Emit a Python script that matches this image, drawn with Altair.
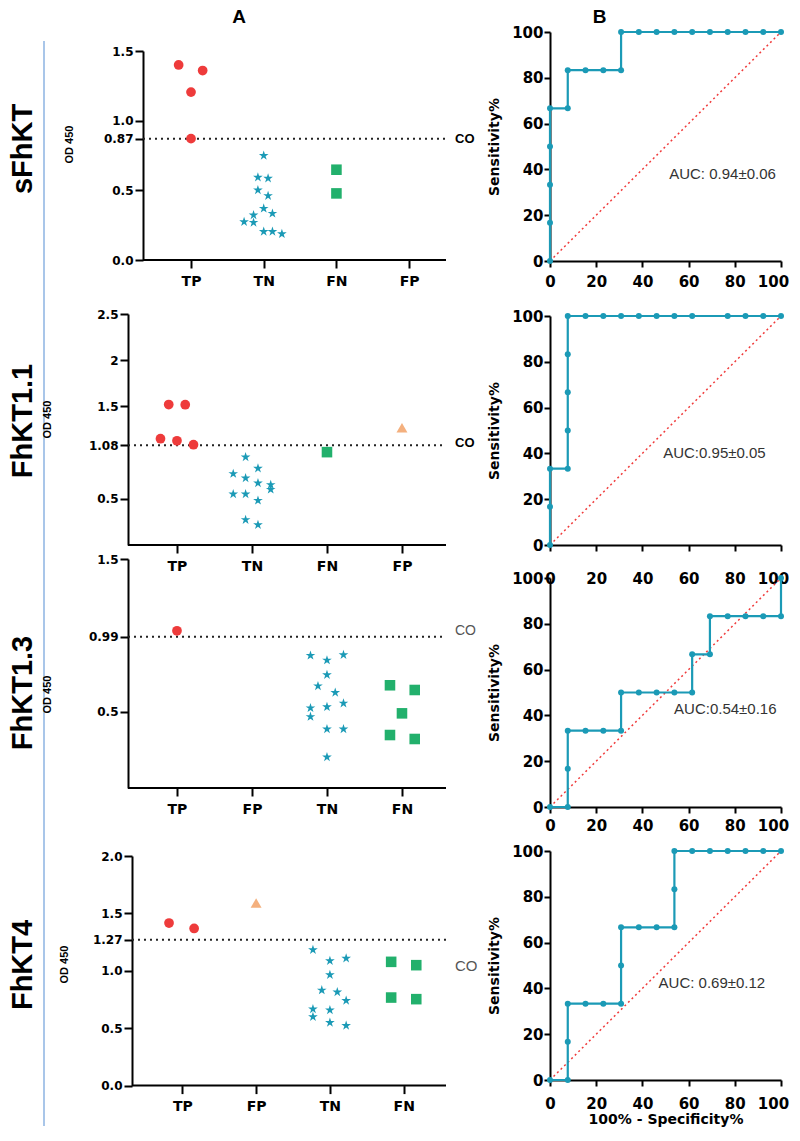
import json
import altair as alt
import pandas as pd

# ---------------- data ----------------
PANELS = ["sFhKT", "FhKT1.1", "FhKT1.3", "FhKT4"]
PANEL_ROW = [0, 1, 2, 3]
CATS = [["TP", "TN", "FN", "FP"], ["TP", "TN", "FN", "FP"],
        ["TP", "FP", "TN", "FN"], ["TP", "FP", "TN", "FN"]]
CUTOFF = [0.87, 1.08, 0.99, 1.27]
YMAX = [1.5, 2.5, 1.5, 2.0]
YTICK_VALUES = [[0.0, 0.5, 0.87, 1.0, 1.5], [0.5, 1.08, 1.5, 2.0, 2.5],
                [0.5, 0.99, 1.5], [0.0, 0.5, 1.0, 1.27, 1.5, 2.0]]
YTICK_LABELS = [["0.0", "0.5", "0.87", "1.0", "1.5"], ["0.5", "1.08", "1.5", "2", "2.5"],
                ["0.5", "0.99", "1.5"], ["0.0", "0.5", "1.0", "1.27", "1.5", "2.0"]]

# OD 450 values per group, with beeswarm jitter (fraction of a category step)
SF_TP = [1.40, 1.36, 1.205, 0.871]
SF_TP_J = [-0.17, 0.16, 0.0, 0.0]
SF_TN = [0.749, 0.593, 0.586, 0.502, 0.461, 0.370, 0.322, 0.334, 0.274, 0.269, 0.204, 0.204, 0.187]
SF_TN_J = [0, -0.08, 0.06, -0.08, 0.06, 0, -0.14, 0.12, -0.27, -0.14, 0, 0.12, 0.25]
SF_FN = [0.648, 0.478]
SF_FN_J = [0, 0]

K11_TP = [1.52, 1.518, 1.15, 1.128, 1.085]
K11_TP_J = [-0.11, 0.11, -0.22, 0, 0.22]
K11_TN = [0.951, 0.829, 0.771, 0.724, 0.670, 0.652, 0.601, 0.551, 0.551, 0.482, 0.273, 0.218]
K11_TN_J = [-0.085, 0.08, -0.25, -0.085, 0.08, 0.25, 0.25, -0.25, -0.085, 0.08, -0.085, 0.08]
K11_FN = [1.005]
K11_FN_J = [0]
K11_FP = [1.27]
K11_FP_J = [0]

K13_TP = [1.03]
K13_TP_J = [0]
K13_TN = [0.868, 0.837, 0.872, 0.741, 0.668, 0.625, 0.524, 0.531, 0.555, 0.467, 0.386, 0.386, 0.202]
K13_TN_J = [-0.22, 0, 0.22, 0, -0.12, 0.11, -0.22, 0, 0.22, -0.22, 0, 0.22, 0]
K13_FN = [0.673, 0.642, 0.489, 0.347, 0.321]
K13_FN_J = [-0.16, 0.17, 0, -0.16, 0.17]

K4_TP = [1.416, 1.369]
K4_TP_J = [-0.18, 0.16]
K4_FP = [1.59]
K4_FP_J = [0]
K4_TN = [1.183, 1.087, 1.108, 0.965, 0.831, 0.814, 0.741, 0.666, 0.657, 0.599, 0.549, 0.523]
K4_TN_J = [-0.23, 0, 0.22, 0, -0.11, 0.1, 0.22, -0.23, 0, -0.23, 0, 0.22]
K4_FN = [1.078, 1.049, 0.767, 0.753]
K4_FN_J = [-0.17, 0.17, -0.17, 0.17]

GROUPS = [
    {"TP": (SF_TP, SF_TP_J), "TN": (SF_TN, SF_TN_J), "FN": (SF_FN, SF_FN_J)},
    {"TP": (K11_TP, K11_TP_J), "TN": (K11_TN, K11_TN_J), "FN": (K11_FN, K11_FN_J), "FP": (K11_FP, K11_FP_J)},
    {"TP": (K13_TP, K13_TP_J), "TN": (K13_TN, K13_TN_J), "FN": (K13_FN, K13_FN_J)},
    {"TP": (K4_TP, K4_TP_J), "FP": (K4_FP, K4_FP_J), "TN": (K4_TN, K4_TN_J), "FN": (K4_FN, K4_FN_J)},
]

# ROC curves (100% - specificity, sensitivity)
ROC1_X = [0, 0, 0, 0, 0, 7.69, 7.69, 15.38, 23.08, 30.77, 30.77, 38.46, 46.15, 53.85, 61.54, 69.23, 76.92, 84.62, 92.31, 100]
ROC1_Y = [0, 16.67, 33.33, 50, 66.67, 66.67, 83.33, 83.33, 83.33, 83.33, 100, 100, 100, 100, 100, 100, 100, 100, 100, 100]
ROC2_X = [0, 0, 0, 7.69, 7.69, 7.69, 7.69, 7.69, 15.38, 23.08, 30.77, 38.46, 46.15, 53.85, 61.54, 76.92, 84.62, 92.31, 100]
ROC2_Y = [0, 16.67, 33.33, 33.33, 50, 66.67, 83.33, 100, 100, 100, 100, 100, 100, 100, 100, 100, 100, 100, 100]
ROC3_X = [0, 7.69, 7.69, 7.69, 15.38, 23.08, 30.77, 30.77, 38.46, 46.15, 53.85, 61.54, 61.54, 69.23, 69.23, 76.92, 84.62, 92.31, 100, 100]
ROC3_Y = [0, 0, 16.67, 33.33, 33.33, 33.33, 33.33, 50, 50, 50, 50, 50, 66.67, 66.67, 83.33, 83.33, 83.33, 83.33, 83.33, 100]
ROC4_X = [0, 7.69, 7.69, 7.69, 15.38, 23.08, 30.77, 30.77, 30.77, 38.46, 46.15, 53.85, 53.85, 53.85, 61.54, 69.23, 76.92, 84.62, 92.31, 100]
ROC4_Y = [0, 0, 16.67, 33.33, 33.33, 33.33, 33.33, 50, 66.67, 66.67, 66.67, 66.67, 83.33, 100, 100, 100, 100, 100, 100, 100]
ROCS = [(ROC1_X, ROC1_Y), (ROC2_X, ROC2_Y), (ROC3_X, ROC3_Y), (ROC4_X, ROC4_Y)]
DIAG = [0, 100]
AUC_TEXT = ["AUC: 0.94±0.06", "AUC:0.95±0.05", "AUC:0.54±0.16", "AUC: 0.69±0.12"]
AUC_X = [51.6, 49.0, 53.7, 47.0]
AUC_Y = [38.0, 40.0, 42.7, 42.4]
AXIS_TICKS_ROC = [0, 20, 40, 60, 80, 100]

# ---------------- styles ----------------
STAR = ("M0,-1L0.2245,-0.309L0.951,-0.309L0.363,0.118L0.588,0.809L0,0.382"
        "L-0.588,0.809L-0.363,0.118L-0.951,-0.309L-0.2245,-0.309Z")
CAT_DOMAIN = ["TP", "TN", "FN", "FP"]
CAT_SHAPES = ["circle", STAR, "square", "triangle-up"]
CAT_COLORS = ["#EE3B3B", "#1B9AB6", "#22B06C", "#F4B07E"]
CAT_SIZES = [95, 120, 100, 95]
TEAL = "#1B9AB6"
BOLD_FONT = "DejaVu Sans"
ARIAL = "Liberation Sans"


def label_expr(values, labels):
    expr = "''"
    for v, l in zip(values, labels):
        expr = f"(abs(datum.value - {v}) < 1e-6 ? '{l}' : {expr})"
    return expr


def spacer(h):
    return alt.Chart(pd.DataFrame({"s": [0]})).mark_point(opacity=0).properties(width=1, height=h)


def a_panel(i, height, dmin, dmax, ax_start, off, title_x, title_y, co_y, co_color, co_weight, co_size):
    rows = []
    for cat, (vals, jit) in GROUPS[i].items():
        idx = CATS[i].index(cat) + 1
        for v, j in zip(vals, jit):
            rows.append({"cat": cat, "xpos": idx + j, "od": v})
    df = pd.DataFrame(rows)
    x_enc = alt.X("xpos:Q", scale=alt.Scale(domain=[dmin, dmax], nice=False, zero=False),
                  axis=alt.Axis(values=[1, 2, 3, 4], labelExpr=f"{json.dumps(CATS[i])}[datum.value - 1]",
                                title=None, domain=False, tickSize=8, labelPadding=6, labelFont=BOLD_FONT,
                                labelFontWeight="bold", labelFontSize=14, labelColor="black",
                                labelFlush=False))
    y_enc = alt.Y("od:Q", scale=alt.Scale(domain=[0, YMAX[i]], nice=False),
                  axis=alt.Axis(values=YTICK_VALUES[i], labelExpr=label_expr(YTICK_VALUES[i], YTICK_LABELS[i]),
                                offset=-off, labelFlush=False,
                                title="OD 450", titleFont=ARIAL, titleFontSize=11, titleFontWeight="bold",
                                titleColor="black", titleAngle=270, titleAlign="center", titleBaseline="middle",
                                titleX=title_x, titleY=title_y, tickSize=8, labelPadding=2,
                                labelFont=BOLD_FONT, labelFontWeight="bold", labelFontSize=12,
                                labelColor="black"))
    pts = alt.Chart(df).mark_point(filled=True, opacity=1, strokeWidth=0).encode(
        x=x_enc, y=y_enc,
        shape=alt.Shape("cat:N", scale=alt.Scale(domain=CAT_DOMAIN, range=CAT_SHAPES), legend=None),
        color=alt.Color("cat:N", scale=alt.Scale(domain=CAT_DOMAIN, range=CAT_COLORS), legend=None),
        size=alt.Size("cat:N", scale=alt.Scale(domain=CAT_DOMAIN, range=CAT_SIZES), legend=None),
    )
    base_line = alt.Chart(pd.DataFrame({"xpos": [ax_start], "xend": [dmax], "od": [0.0]})).mark_rule(
        color="black", strokeWidth=2).encode(x=x_enc, x2="xend:Q", y=y_enc)
    cut = alt.Chart(pd.DataFrame({"xpos": [ax_start], "xend": [dmax], "od": [CUTOFF[i]]})).mark_rule(
        color="#222", strokeWidth=2, strokeDash=[2, 4]).encode(x=x_enc, x2="xend:Q", y=y_enc)
    co = alt.Chart(pd.DataFrame({"xpos": [dmax], "od": [co_y], "t": ["CO"]})).mark_text(
        align="left", baseline="middle", dx=9, font=ARIAL, fontSize=co_size,
        fontWeight=co_weight, color=co_color).encode(x=x_enc, y=y_enc, text="t:N")
    return alt.layer(cut, base_line, pts, co).properties(width=318, height=height)


def b_panel(i, label_pad, show_title):
    fx, fy = ROCS[i]
    df = pd.DataFrame({"fpr": fx, "sens": fy, "ord": list(range(len(fx)))})
    x_enc = alt.X("fpr:Q", scale=alt.Scale(domain=[0, 100], nice=False),
                  axis=alt.Axis(values=AXIS_TICKS_ROC, title="100% - Specificity%" if show_title else None,
                                titleFont=BOLD_FONT, titleFontSize=14, titleFontWeight="bold",
                                titleColor="black", titlePadding=1, labelFlush=False,
                                labelOffset={"condition": {"test": "datum.value === 100", "value": -8},
                                             "value": 0},
                                tickSize=6, labelPadding=label_pad, labelFont=BOLD_FONT,
                                labelFontWeight="bold", labelFontSize=15, labelColor="black"))
    y_enc = alt.Y("sens:Q", scale=alt.Scale(domain=[0, 100], nice=False),
                  axis=alt.Axis(values=AXIS_TICKS_ROC, title="Sensitivity%", titleFont=BOLD_FONT,
                                titleFontSize=14, titleFontWeight="bold", titleColor="black",
                                titleAngle=270, titleAlign="center", titleBaseline="middle",
                                titleX=-56, titleY=114.5, tickSize=6, labelPadding=1, labelFlush=False,
                                labelFont=BOLD_FONT, labelFontWeight="bold", labelFontSize=15,
                                labelColor="black"))
    diag = alt.Chart(pd.DataFrame({"fpr": DIAG, "sens": DIAG})).mark_line(
        color="#F03C3C", strokeWidth=1.5, strokeDash=[2, 3]).encode(x=x_enc, y=y_enc)
    line = alt.Chart(df).mark_line(color=TEAL, strokeWidth=2.2).encode(x=x_enc, y=y_enc, order="ord:Q")
    pts = alt.Chart(df).mark_circle(color=TEAL, opacity=1, size=36).encode(x=x_enc, y=y_enc)
    auc = alt.Chart(pd.DataFrame({"fpr": [AUC_X[i]], "sens": [AUC_Y[i]], "t": [AUC_TEXT[i]]})).mark_text(
        align="left", baseline="middle", font=ARIAL, fontSize=15, color="#333").encode(
        x=x_enc, y=y_enc, text="t:N")
    return alt.layer(diag, line, pts, auc).properties(width=231, height=229)


# ---------------- column A (header cell also carries the row labels and separator) ----------------
HEAD_A_H = 41.7
head_a_text = alt.Chart(pd.DataFrame({"t": ["A"]})).mark_text(
    font=ARIAL, fontSize=19, fontWeight="bold", color="black", align="center",
    baseline="alphabetic").encode(x=alt.value(111), y=alt.value(14), text="t:N")
lab_text = alt.Chart(pd.DataFrame({"panel": PANELS, "row": PANEL_ROW})).mark_text(
    angle=270, align="center", baseline="middle", font=ARIAL, fontSize=29, fontWeight="bold",
    color="black").encode(
    x=alt.value(-105),
    y=alt.Y("row:Q", scale=alt.Scale(domain=[-0.5147, 3.592], range=[0, 1117], nice=False, zero=False),
            axis=None),
    text="panel:N")
sep = alt.Chart(pd.DataFrame({"s": [0]})).mark_rule(color="#8DB3E2", strokeWidth=1.5).encode(
    x=alt.value(-84), y=alt.value(32), y2=alt.value(1117))
head_a = alt.layer(sep, lab_text, head_a_text).properties(width=1, height=HEAD_A_H)

A1 = a_panel(0, 209, 0.1334, 4.507, 0.3397, 15, -74, 93, 0.87, "black", "bold", 13)
A2 = a_panel(1, 231, 0.347, 4.587, 0.347, 0, -81, 105, 1.10, "black", "bold", 13)
A3 = a_panel(2, 229, 0.347, 4.587, 0.347, 0, -81, 135, 1.03, "#555", "normal", 14)
A4 = a_panel(3, 229.6, 0.264, 4.573, 0.318, 4, -68, 108, 1.04, "#555", "normal", 15)

colA = alt.vconcat(head_a, A1, spacer(54), A2, spacer(14), A3, spacer(67.7), A4,
                   spacing=0, bounds="flush")

# ---------------- column B ----------------
head_b = alt.Chart(pd.DataFrame({"t": ["B"]})).mark_text(
    font=ARIAL, fontSize=19, fontWeight="bold", color="black", align="center",
    baseline="alphabetic").encode(x=alt.value(49.5), y=alt.value(14), text="t:N").properties(
    width=1, height=HEAD_A_H - 19.3)

colB = alt.vconcat(
    head_b,
    b_panel(0, 7, False),
    spacer(54.3),
    b_panel(1, 20, False),
    spacer(32.7),
    b_panel(2, 5, False),
    spacer(43.6),
    b_panel(3, 10, True),
    spacing=0, bounds="flush")

chart = alt.hconcat(colA, colB, spacing=9).properties(
    padding=0
).configure_view(stroke=None).configure_axis(
    grid=False, domainColor="black", domainWidth=2, tickColor="black", tickWidth=2
)

chart.save("out.html", embed_options={"renderer": "svg", "actions": False})
